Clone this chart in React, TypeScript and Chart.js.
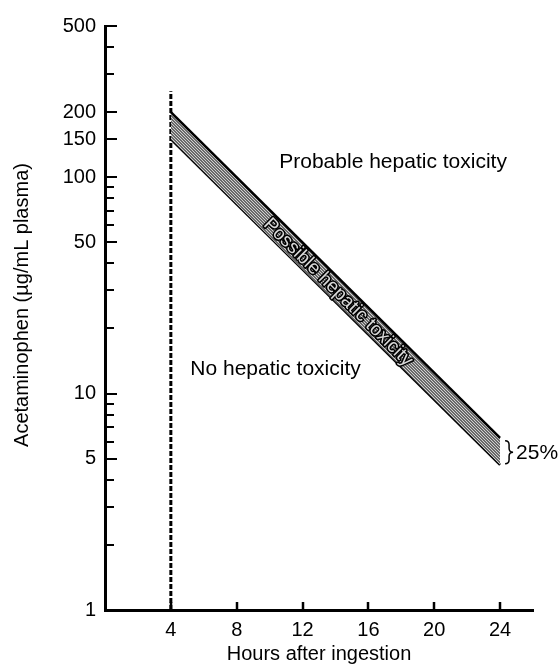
import React, { useEffect, useRef } from 'react';
import { Chart, registerables } from 'chart.js';

Chart.register(...registerables);

// ---- data ----
const bandHours = [4, 24];
const upperLimit = [200, 6.25];
const lowerLimit = [150, 4.69];
const cutoffHours = [4, 4];
const cutoffLevels = [1, 250];
const xTickValues = [4, 8, 12, 16, 20, 24];
const yTickValues = [1, 2, 3, 4, 5, 6, 7, 8, 9, 10, 20, 30, 40, 50, 60, 70, 80, 90, 100, 150, 200, 300, 400, 500];
const yLabelValues = [1, 5, 10, 50, 100, 150, 200, 500];

const FONT = '"Liberation Sans", Arial, Helvetica, sans-serif';

function makePattern(): CanvasPattern | string {
  const c = document.createElement('canvas');
  c.width = 3;
  c.height = 3;
  const g = c.getContext('2d');
  if (!g) return '#888';
  g.fillStyle = '#6a6a6a';
  g.fillRect(0, 0, 3, 3);
  g.fillStyle = '#d0d0d0';
  g.fillRect(0, 0, 1, 1);
  g.fillRect(1, 1, 1, 1);
  g.fillRect(2, 2, 1, 1);
  return g.createPattern(c, 'repeat') || '#888';
}

function interp(arr: number[], h: number) {
  return arr[0] * Math.pow(arr[1] / arr[0], (h - bandHours[0]) / (bandHours[1] - bandHours[0]));
}

const overlay = {
  id: 'overlay',
  afterDraw(chart: any) {
    const { ctx, chartArea, scales } = chart;
    const x = scales.x;
    const y = scales.y;
    ctx.save();
    ctx.strokeStyle = '#000';
    ctx.lineWidth = 2;
    // inward y ticks
    yTickValues.forEach((v) => {
      if (v === 1) return;
      const py = Math.round(y.getPixelForValue(v));
      const len = yLabelValues.includes(v) ? 12 : 9;
      ctx.beginPath();
      ctx.moveTo(chartArea.left, py);
      ctx.lineTo(chartArea.left + len, py);
      ctx.stroke();
    });
    // inward x ticks
    ctx.lineWidth = 2.5;
    xTickValues.forEach((v) => {
      const px = Math.round(x.getPixelForValue(v));
      ctx.beginPath();
      ctx.moveTo(px, chartArea.bottom);
      ctx.lineTo(px, chartArea.bottom - 8);
      ctx.stroke();
    });

    // region labels
    ctx.fillStyle = '#000';
    ctx.font = `21px ${FONT}`;
    ctx.textAlign = 'center';
    ctx.textBaseline = 'middle';
    ctx.fillText('Probable hepatic toxicity', x.getPixelForValue(17.5), y.getPixelForValue(117));
    ctx.fillText('No hepatic toxicity', x.getPixelForValue(10.36), y.getPixelForValue(13));

    // label inside band
    const h0 = bandHours[0];
    const h1 = bandHours[1];
    const x0 = x.getPixelForValue(h0);
    const y0 = y.getPixelForValue(Math.sqrt(upperLimit[0] * lowerLimit[0]));
    const x1 = x.getPixelForValue(h1);
    const y1 = y.getPixelForValue(Math.sqrt(upperLimit[1] * lowerLimit[1]));
    const ang = Math.atan2(y1 - y0, x1 - x0);
    const hc = 14.2;
    const cx = x.getPixelForValue(hc);
    const cy = y.getPixelForValue(Math.sqrt(interp(upperLimit, hc) * interp(lowerLimit, hc)));
    ctx.save();
    ctx.translate(cx, cy);
    ctx.rotate(ang);
    ctx.font = `19px ${FONT}`;
    ctx.lineJoin = 'round';
    ctx.lineWidth = 3;
    ctx.strokeStyle = '#000';
    ctx.strokeText('Possible hepatic toxicity', 0, 1);
    ctx.fillStyle = '#d8d8d8';
    ctx.fillText('Possible hepatic toxicity', 0, 1);
    ctx.restore();

    // brace + 25%
    const bx = x.getPixelForValue(h1) + 5;
    const by1 = y.getPixelForValue(upperLimit[1]) + 3;
    const by2 = y.getPixelForValue(lowerLimit[1]) - 1;
    const bym = (by1 + by2) / 2;
    ctx.lineWidth = 1.5;
    ctx.strokeStyle = '#000';
    ctx.beginPath();
    ctx.moveTo(bx, by1);
    ctx.quadraticCurveTo(bx + 4, by1, bx + 4, by1 + 4);
    ctx.lineTo(bx + 4, bym - 4);
    ctx.quadraticCurveTo(bx + 4, bym, bx + 8, bym);
    ctx.quadraticCurveTo(bx + 4, bym, bx + 4, bym + 4);
    ctx.lineTo(bx + 4, by2 - 4);
    ctx.quadraticCurveTo(bx + 4, by2, bx, by2);
    ctx.stroke();
    ctx.textAlign = 'left';
    ctx.font = `21px ${FONT}`;
    ctx.fillText('25%', bx + 11, bym + 1);

    // y axis title
    ctx.save();
    ctx.translate(22, 305);
    ctx.rotate(-Math.PI / 2);
    ctx.textAlign = 'center';
    ctx.font = `20px ${FONT}`;
    ctx.fillText('Acetaminophen (\u00b5g/mL plasma)', 0, 0);
    ctx.restore();

    ctx.restore();
  },
};

export default function App() {
  const ref = useRef<HTMLCanvasElement | null>(null);

  useEffect(() => {
    if (!ref.current) return;
    Chart.defaults.font.family = FONT;
    Chart.defaults.font.size = 20;
    Chart.defaults.color = '#000';
    const pattern = makePattern();
    const chart = new Chart(ref.current, {
      type: 'line',
      data: {
        datasets: [
          {
            data: bandHours.map((h, i) => ({ x: h, y: upperLimit[i] })),
            borderColor: '#000',
            borderWidth: 2.5,
            pointRadius: 0,
            fill: '+1',
            backgroundColor: pattern as any,
          },
          {
            data: bandHours.map((h, i) => ({ x: h, y: lowerLimit[i] })),
            borderColor: '#000',
            borderWidth: 2.5,
            pointRadius: 0,
            fill: false,
          },
          {
            data: cutoffHours.map((h, i) => ({ x: h, y: cutoffLevels[i] })),
            borderColor: '#000',
            borderWidth: 3,
            borderDash: [5, 2],
            pointRadius: 0,
            fill: false,
          },
        ],
      },
      options: {
        responsive: false,
        animation: false,
        layout: { padding: { top: 26, right: 27, left: 0, bottom: 0 } },
        plugins: { legend: { display: false }, tooltip: { enabled: false } },
        scales: {
          x: {
            type: 'linear',
            min: 0,
            max: 26,
            afterFit: (s: any) => {
              s.height = 58;
            },
            afterBuildTicks: (s: any) => {
              s.ticks = xTickValues.map((v) => ({ value: v }));
            },
            grid: { display: false, drawTicks: false },
            border: { display: true, color: '#000', width: 3 },
            ticks: { padding: 8, color: '#000', font: { size: 20 }, maxRotation: 0, autoSkip: false },
            title: {
              display: true,
              text: 'Hours after ingestion',
              color: '#000',
              font: { size: 20 },
              padding: { top: 0, bottom: 2 },
            },
          },
          y: {
            type: 'logarithmic',
            min: 1,
            max: 500,
            afterFit: (s: any) => {
              s.width = 105;
            },
            afterBuildTicks: (s: any) => {
              s.ticks = yTickValues.map((v) => ({ value: v }));
            },
            grid: { display: false, drawTicks: false },
            border: { display: true, color: '#000', width: 3 },
            ticks: {
              padding: 9,
              color: '#000',
              font: { size: 20 },
              autoSkip: false,
              callback: (v: any) => (yLabelValues.includes(Number(v)) ? String(v) : ''),
            },
          },
        },
      } as any,
      plugins: [overlay],
    });
    return () => chart.destroy();
  }, []);

  return (
    <div style={{ position: 'fixed', left: 0, top: 0, width: 560, height: 668, background: '#fff' }}>
      <canvas ref={ref} width={560} height={668} />
    </div>
  );
}
